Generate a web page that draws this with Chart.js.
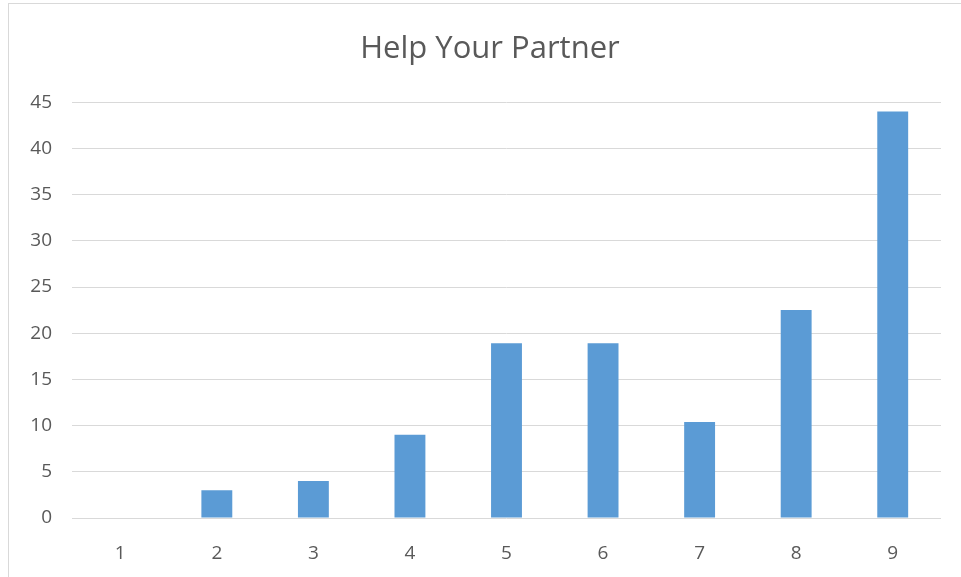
<!DOCTYPE html>
<html>
<head>
<meta charset="utf-8">
<title>Help Your Partner</title>
<script src="https://cdn.jsdelivr.net/npm/chart.js@4/dist/chart.umd.min.js"></script>
<style>
  html, body { margin: 0; padding: 0; background: #fff; overflow: hidden; }
  #wrap { position: relative; width: 961px; height: 577px; }
  #frame {
    position: absolute; left: 8px; top: 3px;
    width: 1000px; height: 1000px;
    border: 1px solid #d9d9d9; box-sizing: border-box;
  }
  #chart { position: absolute; left: 0; top: 0; }
</style>
</head>
<body>
<div id="wrap">
  <div id="frame"></div>
  <canvas id="chart" width="961" height="577"></canvas>
</div>
<script>
// Categories and values for the bar series
const categories = ['1', '2', '3', '4', '5', '6', '7', '8', '9'];
const helpValues = [0, 3, 4, 9, 18.9, 18.9, 10.4, 22.5, 44];
const yTicks = [0, 5, 10, 15, 20, 25, 30, 35, 40, 45];

const textColor = '#595959';
const gridColor = '#d9d9d9';
const fontFamily = '"Open Sans", "Noto Sans", sans-serif';

const ctx = document.getElementById('chart').getContext('2d');
const chart = new Chart(ctx, {
  type: 'bar',
  data: {
    labels: categories,
    datasets: [{
      label: 'Help Your Partner',
      data: helpValues,
      backgroundColor: '#5b9bd5',
      barPercentage: 0.32,
      categoryPercentage: 1,
    }],
  },
  options: {
    responsive: false,
    animation: false,
    // small left padding so the full-width title sits centred over the frame
    layout: { padding: { top: 0, left: 19, right: 0, bottom: 0 } },
    plugins: {
      legend: { display: false },
      tooltip: { enabled: false },
      title: {
        display: true,
        text: 'Help Your Partner',
        color: textColor,
        font: { family: fontFamily, size: 31, weight: 'normal', lineHeight: 1.2 },
        padding: { top: 31, bottom: 34 },
      },
    },
    scales: {
      x: {
        grid: { display: false },
        border: { display: false },
        ticks: { color: textColor, font: { family: fontFamily, size: 19 }, padding: 16 },
        afterFit: s => { s.height = 59; },
      },
      y: {
        min: 0,
        max: 45,
        afterBuildTicks: s => { s.ticks = yTicks.map(v => ({ value: v })); },
        grid: { color: gridColor, lineWidth: 1, drawTicks: false },
        border: { display: false },
        ticks: { color: textColor, font: { family: fontFamily, size: 19 }, padding: 20 },
        afterFit: s => { s.width = 53; },
      },
      // empty axis that only reserves the right-hand margin
      yRight: {
        position: 'right',
        min: 0,
        max: 45,
        grid: { display: false },
        border: { display: false },
        ticks: { display: false },
        afterFit: s => { s.width = 20; },
      },
    },
  },
});
</script>
</body>
</html>
